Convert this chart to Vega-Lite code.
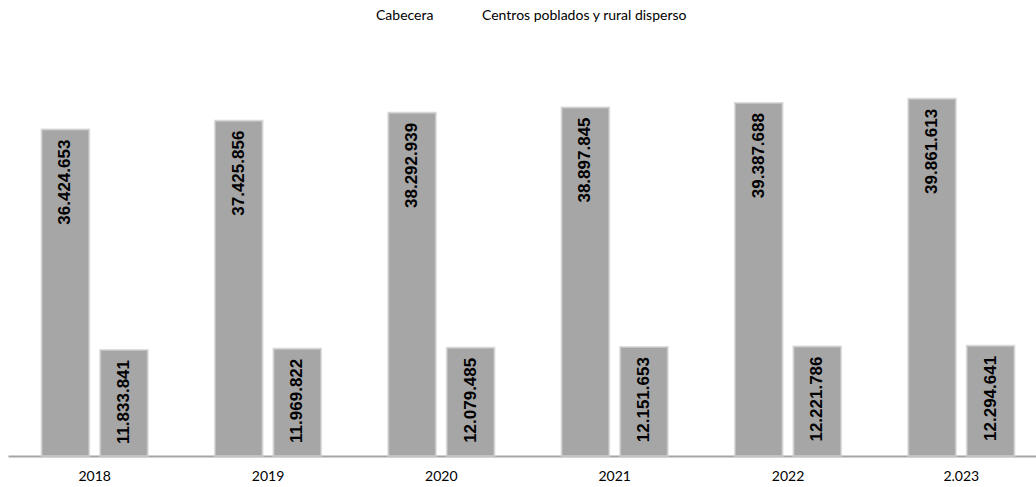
{
  "$schema": "https://vega.github.io/schema/vega-lite/v6.json",
  "width": 1040,
  "height": 400,
  "autosize": {"type": "none"},
  "padding": {"left": 8, "top": 56, "right": 0, "bottom": 31},
  "background": "white",
  "data": {
    "values": [
      {"year": "2018", "zona": "Cabecera", "valor": 36424653},
      {"year": "2018", "zona": "Centros poblados y rural disperso", "valor": 11833841},
      {"year": "2019", "zona": "Cabecera", "valor": 37425856},
      {"year": "2019", "zona": "Centros poblados y rural disperso", "valor": 11969822},
      {"year": "2020", "zona": "Cabecera", "valor": 38292939},
      {"year": "2020", "zona": "Centros poblados y rural disperso", "valor": 12079485},
      {"year": "2021", "zona": "Cabecera", "valor": 38897845},
      {"year": "2021", "zona": "Centros poblados y rural disperso", "valor": 12151653},
      {"year": "2022", "zona": "Cabecera", "valor": 39387688},
      {"year": "2022", "zona": "Centros poblados y rural disperso", "valor": 12221786},
      {"year": "2.023", "zona": "Cabecera", "valor": 39861613},
      {"year": "2.023", "zona": "Centros poblados y rural disperso", "valor": 12294641}
    ]
  },
  "encoding": {
    "x": {
      "field": "year", "type": "nominal", "sort": null,
      "scale": {"paddingInner": 0.388, "paddingOuter": 0.194},
      "axis": {
        "title": null, "labelAngle": 0, "ticks": false,
        "domainColor": "#a6a6a6", "domainWidth": 2,
        "labelFont": "Lato", "labelFontSize": 14, "labelColor": "#000000",
        "labelPadding": 13
      }
    },
    "xOffset": {
      "field": "zona", "type": "nominal", "sort": null,
      "scale": {"paddingInner": 0.188, "paddingOuter": 0}
    },
    "y": {
      "field": "valor", "type": "quantitative",
      "scale": {"domain": [0, 44640000]},
      "axis": null
    }
  },
  "layer": [
    {
      "mark": {"type": "bar", "stroke": "#cfcfcf", "strokeWidth": 2, "strokeOpacity": 0.7},
      "encoding": {
        "color": {
          "field": "zona", "type": "nominal", "sort": null,
          "scale": {"range": ["#a6a6a6", "#a6a6a6"]},
          "legend": {
            "title": null, "orient": "none", "direction": "horizontal",
            "legendX": 350, "legendY": -47,
            "symbolType": "square", "symbolSize": 100, "symbolOpacity": 0, "symbolStrokeWidth": 0,
            "labelOffset": 4, "columnPadding": 30, "labelLimit": 400,
            "labelFont": "Lato", "labelFontSize": 14, "labelColor": "#000000"
          }
        }
      }
    },
    {
      "mark": {
        "type": "text", "angle": 270, "align": "right", "baseline": "middle",
        "dx": -10, "font": "Liberation Sans", "fontWeight": "bold", "fontSize": 17,
        "color": "#000000"
      },
      "encoding": {
        "text": {"field": "valor", "type": "quantitative", "format": ",d"}
      }
    }
  ],
  "config": {
    "view": {"stroke": null},
    "locale": {
      "number": {"decimal": ",", "thousands": ".", "grouping": [3], "currency": ["$", ""]}
    }
  }
}
